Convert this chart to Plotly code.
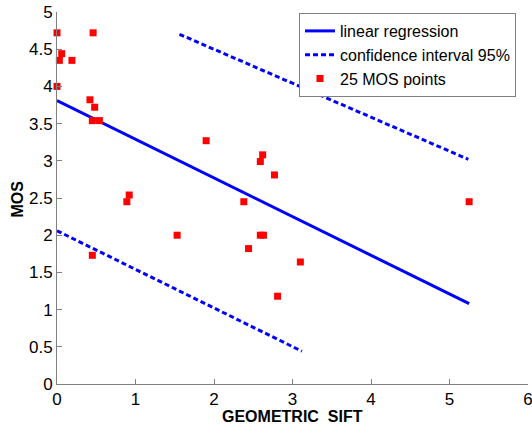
import plotly.graph_objects as go

# MOS data points (geometric SIFT, MOS)
sift_x = [0.00, 0.03, 0.06, 0.00, 0.19, 0.46, 0.42, 0.48, 0.45, 0.54,
          0.45, 0.89, 0.92, 1.53, 1.90, 2.38, 2.44, 2.59, 2.62, 2.59,
          2.63, 2.77, 2.81, 3.10, 5.25]
mos_y = [4.72, 4.35, 4.44, 4.00, 4.35, 4.72, 3.82, 3.72, 3.54, 3.54,
         1.73, 2.45, 2.54, 2.00, 3.27, 2.45, 1.82, 2.99, 3.08, 2.00,
         2.00, 2.81, 1.18, 1.64, 2.45]

# regression line and confidence interval endpoints
reg_x = [0.0, 5.25]
reg_y = [3.81, 1.08]
ci_up_x = [1.56, 5.24]
ci_up_y = [4.70, 3.02]
ci_lo_x = [0.0, 3.12]
ci_lo_y = [2.06, 0.44]

x_ticks = [0, 1, 2, 3, 4, 5, 6]
y_ticks = [0, 0.5, 1, 1.5, 2, 2.5, 3, 3.5, 4, 4.5, 5]
y_ticktext = ["0", "0.5", "1", "1.5", "2", "2.5", "3", "3.5", "4", "4.5", "5"]

blue = "#0000ff"
red = "#ff0000"
dash = "5px,3px"

W, H = 532, 426
ML, MR, MT, MB = 57, 4, 12, 42

fig = go.Figure()
fig.add_trace(go.Scatter(x=reg_x, y=reg_y, mode="lines", name="linear regression",
                         line=dict(color=blue, width=3), cliponaxis=False))
fig.add_trace(go.Scatter(x=ci_up_x, y=ci_up_y, mode="lines", name="confidence interval 95%",
                         line=dict(color=blue, width=3, dash=dash), cliponaxis=False))
fig.add_trace(go.Scatter(x=ci_lo_x, y=ci_lo_y, mode="lines", name="confidence interval 95%",
                         line=dict(color=blue, width=3, dash=dash), showlegend=False,
                         cliponaxis=False))
fig.add_trace(go.Scatter(x=sift_x, y=mos_y, mode="markers", name="25 MOS points",
                         marker=dict(color=red, symbol="square", size=7, line=dict(width=0)),
                         cliponaxis=False))

pw = W - ML - MR
ph = H - MT - MB


def px_to_paper(x, y):
    return (x - ML) / pw, (H - MB - y) / ph


lx, ly = px_to_paper(299, 13)
tx, ty = px_to_paper(292, 416)
mx, my = px_to_paper(16.5, 199)

fig.update_layout(
    width=W, height=H,
    margin=dict(l=ML, r=MR, t=MT, b=MB),
    paper_bgcolor="white", plot_bgcolor="white",
    font=dict(family="Liberation Sans, Arial, sans-serif", color="black", size=17),
    showlegend=True,
    legend=dict(x=lx, y=ly, xanchor="left", yanchor="top",
                bgcolor="white", bordercolor="#808080", borderwidth=1,
                font=dict(size=16), tracegroupgap=0, itemwidth=30),
    xaxis=dict(range=[0, 6], tickvals=x_ticks, showgrid=False, zeroline=False,
               showline=True, linecolor="#808080", linewidth=1, automargin=False,
               ticklabeloverflow="allow",
               ticks="inside", ticklen=5, tickcolor="#808080"),
    yaxis=dict(range=[0, 5], tickvals=y_ticks, ticktext=y_ticktext,
               showgrid=False, zeroline=False, automargin=False,
               ticklabeloverflow="allow",
               showline=True, linecolor="#808080", linewidth=1,
               ticks="inside", ticklen=5, tickcolor="#808080"),
    annotations=[
        dict(text="<b>GEOMETRIC&nbsp;&nbsp;SIFT</b>", x=tx, y=ty, xref="paper", yref="paper",
             showarrow=False, font=dict(size=16), xanchor="center", yanchor="middle"),
        dict(text="<b>MOS</b>", x=mx, y=my, xref="paper", yref="paper",
             showarrow=False, font=dict(size=16), textangle=-90, xanchor="center", yanchor="middle"),
    ],
)

fig.write_html("out.html", config={"displayModeBar": False},
               post_script="document.body.style.margin='0';")
